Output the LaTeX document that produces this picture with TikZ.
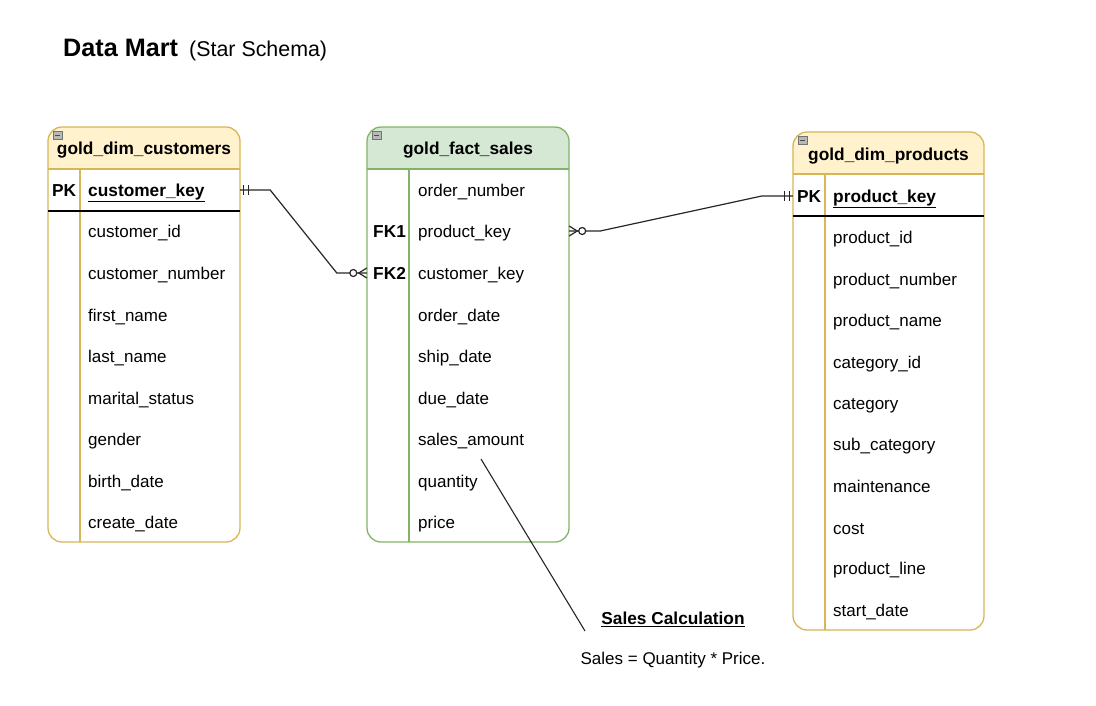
\documentclass[tikz,border=0pt]{standalone}
\usepackage{fontspec}
\setmainfont{Liberation Sans}
\usetikzlibrary{calc}
\definecolor{dimfill}{HTML}{FFF2CC}
\definecolor{dimline}{HTML}{D6B656}
\definecolor{factfill}{HTML}{D5E8D4}
\definecolor{factline}{HTML}{82B366}
\definecolor{iconfill}{HTML}{B8B8B8}
\tikzset{
  field/.style={anchor=mid west, inner sep=0pt, yshift=-3.5pt, font=\fontsize{17}{20}\selectfont},
  keyfield/.style={field, font=\fontsize{17.3}{20}\selectfont\bfseries},
  title/.style={inner sep=0pt, yshift=-2pt, font=\fontsize{17.3}{20}\selectfont\bfseries},
  rowspan/.style={inner sep=0pt, minimum height=41pt},
  conn/.style={line width=1.2pt, draw=black!85},
  ermark/.style={line width=1.2pt, draw=black!85},
  tblborder/.style={line width=1.3pt, rounded corners=14pt},
  divider/.style={line width=1.3pt},
  keyline/.style={line width=1.6pt, draw=black},
  collapse/.style={draw=black!55, fill=iconfill, line width=0.6pt},
}
% draws a table frame: #1 fill, #2 stroke, #3 left, #4 top, #5 right, #6 header bottom, #7 bottom, #8 divider x
\newcommand{\erTable}[8]{%
  \fill[white, rounded corners=14pt] (#3,#4) rectangle (#5,#7);
  \fill[#1] (#3,#6) {[rounded corners=14pt] -- (#3,#4) -- (#5,#4)} -- (#5,#6) -- cycle;
  \draw[#2, divider] (#3,#6) -- (#5,#6);
  \draw[#2, divider] (#8,#6) -- (#8,#7);
  \draw[#2, tblborder] (#3,#4) rectangle (#5,#7);
  \draw[collapse] (#3+5,#4+4) rectangle (#3+14,#4+12);
  \draw[black!70, line width=1pt] (#3+7,#4+8) -- (#3+12,#4+8);
}
\begin{document}
\begin{tikzpicture}[x=1pt, y=-1pt]
\useasboundingbox (0,0) rectangle (1096,705);

% heading
\node[anchor=base west, inner sep=0pt, font=\fontsize{25.2}{29}\selectfont\bfseries] (head) at (63,56) {Data Mart};
\node[anchor=base west, inner sep=0pt, font=\fontsize{21.4}{25}\selectfont] (sub) at (189,56) {(Star Schema)};

% ---------------- gold_dim_customers ----------------
\erTable{dimfill}{dimline}{48}{127}{240}{169}{542}{80}
\node[title] (custT) at (144,148) {gold\_dim\_customers};
\node[rowspan, minimum width=192pt] (custKeyRow) at (144,190) {};
\node[keyfield] (custPK) at (52,190) {PK};
\node[keyfield] (custKey) at (88,190) {\underline{customer\_key}};
\draw[keyline] (48,211) -- (240,211);
\foreach \t/\y [count=\i] in {customer\_id/231, customer\_number/273, first\_name/315,
    last\_name/356, marital\_status/398, gender/439, birth\_date/481, create\_date/522}
  \node[field] (cust\i) at (88,\y) {\t};

% ---------------- gold_fact_sales ----------------
\erTable{factfill}{factline}{367}{127}{569}{169}{542}{409}
\node[title] (factT) at (468,148) {gold\_fact\_sales};
\node[rowspan, minimum width=202pt] (factFK1Row) at (468,231) {};
\node[rowspan, minimum width=202pt] (factFK2Row) at (468,273) {};
\node[keyfield] (fk1) at (373,231) {FK1};
\node[keyfield] (fk2) at (373,273) {FK2};
\foreach \t/\y [count=\i] in {order\_number/190, product\_key/231, customer\_key/273,
    order\_date/315, ship\_date/356, due\_date/398, sales\_amount/439, quantity/481, price/522}
  \node[field] (fact\i) at (418,\y) {\t};

% ---------------- gold_dim_products ----------------
\erTable{dimfill}{dimline}{793}{132}{984}{174}{630}{825}
\node[title] (prodT) at (888.5,154) {gold\_dim\_products};
\node[rowspan, minimum width=191pt] (prodKeyRow) at (888.5,196) {};
\node[keyfield] (prodPK) at (797,196) {PK};
\node[keyfield] (prodKey) at (833,196) {\underline{product\_key}};
\draw[keyline] (793,216) -- (984,216);
\foreach \t/\y [count=\i] in {product\_id/237, product\_number/279, product\_name/320,
    category\_id/362, category/403, sub\_category/444, maintenance/486, cost/528,
    product\_line/568, start\_date/610}
  \node[field] (prod\i) at (833,\y) {\t};

% ---------------- relationships ----------------
% customers (one, mandatory) to fact (zero or many)
\draw[conn] (custKeyRow.east) -- ++(30,0) -- ($(factFK2Row.west)+(-30,0)$) -- (factFK2Row.west);
\draw[ermark] ($(custKeyRow.east)+(3.5,-5)$) -- ++(0,10);
\draw[ermark] ($(custKeyRow.east)+(8,-5)$) -- ++(0,10);
\draw[ermark] ($(factFK2Row.west)+(0,-5)$) -- ($(factFK2Row.west)+(-8,0)$) -- ($(factFK2Row.west)+(0,5)$);
\draw[ermark, fill=white] ($(factFK2Row.west)+(-13.5,0)$) circle (3.5);

% fact (zero or many) to products (one, mandatory)
\draw[conn] (factFK1Row.east) -- ++(31,0) -- ($(prodKeyRow.west)+(-31,0)$) -- (prodKeyRow.west);
\draw[ermark] ($(factFK1Row.east)+(0,-5)$) -- ($(factFK1Row.east)+(8,0)$) -- ($(factFK1Row.east)+(0,5)$);
\draw[ermark, fill=white] ($(factFK1Row.east)+(13,0)$) circle (3.5);
\draw[ermark] ($(prodKeyRow.west)+(-3.5,-5)$) -- ++(0,10);
\draw[ermark] ($(prodKeyRow.west)+(-8,-5)$) -- ++(0,10);

% ---------------- note ----------------
\node[inner sep=0pt, font=\fontsize{17.3}{20}\selectfont\bfseries] (noteT) at (673,619) {\underline{Sales Calculation}};
\node[inner sep=0pt, font=\fontsize{17}{20}\selectfont] (noteB) at (673,660) {Sales = Quantity * Price.};
\coordinate (noteTip) at (481,459);
\coordinate (noteEnd) at (585,631);
\draw[line width=1.1pt, draw=black!85] (noteTip) -- (noteEnd);
\end{tikzpicture}
\end{document}
